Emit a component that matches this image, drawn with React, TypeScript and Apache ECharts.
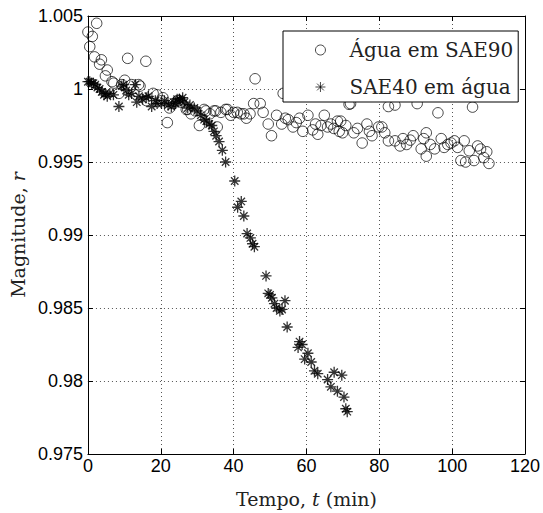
import React, { useEffect, useRef } from "react";
import * as echarts from "echarts";

const seriesNames = ["Água em SAE90", "SAE40 em água"];

const xTicks = { min: 0, max: 120, interval: 20 };
const yTicks = { min: 0.975, max: 1.005, interval: 0.005 };

// Água em SAE90 (circles): [tempo, magnitude]
const aguaEmSAE90: [number, number][] = [
  [0, 1.0039], [0.5, 1.0029], [1.2, 1.0036], [1.8, 1.0022], [2.4, 1.0045], [3.2, 1.0017],
  [3.7, 1.002], [4.8, 1.0009], [5.3, 1.0013], [6.6, 1.0005], [7.1, 1.0004], [8.5, 0.9997],
  [9.3, 1.0003], [10.1, 1.0006], [10.9, 1.0021], [12, 1.0003], [13.9, 1.0003], [14.3, 1.0002],
  [15.9, 1.0019], [16.1, 0.9992], [17.9, 0.9997], [19, 0.9996], [20.2, 0.9992], [20.6, 0.9994],
  [21.8, 0.9977], [22.4, 0.9987], [23.5, 0.999], [24.7, 0.9992], [25.6, 0.9991], [27, 0.9986],
  [27.4, 0.9986], [28.3, 0.9983], [29.5, 0.9985], [30.6, 0.9975], [31.9, 0.9986], [32.4, 0.9985],
  [33.5, 0.9983], [34.6, 0.9985], [35.1, 0.9985], [35.5, 0.9974], [36.5, 0.9984], [37.8, 0.9986],
  [38.3, 0.9986], [39.2, 0.9982], [40, 0.9984], [41, 0.9984], [42, 0.9983], [42.8, 0.9983],
  [43.5, 0.998], [44.5, 0.9983], [45.5, 0.999], [45.9, 1.0007], [47.3, 0.999], [48.1, 0.9984],
  [49.5, 0.9976], [50.4, 0.9968], [51.8, 0.9982], [53.2, 0.9976], [53.6, 0.9997], [54.2, 0.998],
  [55, 0.9979], [56.3, 0.9974], [57.2, 0.9977], [58.1, 0.998], [59, 0.9971], [60.4, 0.9982],
  [60.8, 0.9997], [61.7, 0.9972], [62.5, 0.9976], [63.1, 0.9969], [64, 0.9975], [64.9, 0.9982],
  [65.8, 0.9974], [66.7, 0.9976], [67.5, 0.9973], [68.5, 0.9978], [69, 0.9971], [69.4, 0.9978],
  [69.9, 0.997], [70.8, 0.9975], [71.7, 0.99895], [72.1, 0.999], [73, 0.997], [74, 0.9973],
  [75.3, 0.9963], [76.6, 0.9976], [77.3, 0.9971], [78, 0.9968], [79.8, 0.9974], [80.7, 0.9974],
  [81.5, 0.997], [82.5, 0.99645], [82.5, 0.9988], [84.3, 0.9989], [84.3, 0.99645], [85.7, 0.9961],
  [86.5, 0.9966], [87.5, 0.9962], [88.5, 0.9965], [89.3, 0.9968], [90.4, 0.999], [91.5, 0.9959],
  [92.2, 0.9966], [92.9, 0.997], [92.9, 0.9954], [94, 0.9962], [95.2, 0.9959], [96.1, 0.99837],
  [97, 0.9966], [97.8, 0.996], [98.8, 0.9962], [99.7, 0.9963], [100.6, 0.99645], [101.5, 0.996],
  [102.4, 0.9951], [103.3, 0.99645], [103.7, 0.995], [104.7, 0.99577], [105.6, 0.99876], [106, 0.9951],
  [107, 0.9961], [107.8, 0.99589], [108.7, 0.9953], [109.5, 0.9957], [110.1, 0.9949],
];

// SAE40 em água (asterisks): [tempo, magnitude]
const sae40EmAgua: [number, number][] = [
  [0, 1.0005], [0.5, 1.0005], [1, 1.0004], [1.5, 1.0004], [2, 1.0003], [2.6, 1.0001], [3.2, 1.0],
  [3.8, 0.9998], [4.4, 0.9996], [4.8, 0.9997], [5.3, 0.9995], [6, 0.9997], [7, 0.9996], [8.5, 0.9988],
  [9.3, 1.0002], [9.8, 1.0003], [10.5, 0.9999], [11.2, 0.9996], [12, 0.9997], [13, 1.0003],
  [13.4, 0.9991], [14, 0.9995], [15, 0.9993], [16, 0.9994], [16.6, 0.9995], [17.5, 0.9988],
  [18.5, 0.9992], [19, 0.999], [20.2, 0.999], [21, 0.9992], [22, 0.9989], [22.9, 0.9988],
  [23.5, 0.9991], [24, 0.999], [24.5, 0.9993], [25.1, 0.9993], [25.5, 0.9992], [26, 0.9994],
  [26.5, 0.9991], [27.4, 0.9987], [28, 0.9989], [29.2, 0.9987], [30, 0.9985], [31, 0.9982],
  [31.9, 0.9979], [32.5, 0.9978], [33.3, 0.9976], [34, 0.9975], [34.6, 0.9971], [35.2, 0.9968],
  [36, 0.9964], [36.9, 0.9958], [37.8, 0.995], [40.3, 0.9937], [41.1, 0.9919], [42.1, 0.9923],
  [42.8, 0.9913], [43.7, 0.9901], [44.6, 0.9898], [45.2, 0.9894], [45.7, 0.9892], [48.9, 0.9872],
  [49.5, 0.986], [50, 0.9859], [50.5, 0.9857], [51.2, 0.9853], [51.8, 0.985], [52.7, 0.9848],
  [53.3, 0.9849], [54.1, 0.9855], [54.7, 0.9837], [57.7, 0.9823], [58.1, 0.9827], [58.8, 0.9825],
  [59.5, 0.9815], [60.4, 0.9819], [61.3, 0.9813], [62.2, 0.9807], [63.1, 0.9805], [65.8, 0.9801],
  [66.7, 0.9796], [67.6, 0.9806], [68.5, 0.9793], [69.7, 0.9804], [70.3, 0.9789], [70.8, 0.9781],
  [71.2, 0.9779],
];

const STAR = "path://M5 0 L5 10 M0 5 L10 5 M1.6 1.6 L8.4 8.4 M1.6 8.4 L8.4 1.6";
const SERIF = "'DejaVu Serif', 'Liberation Serif', serif";
const SANS = "'Liberation Sans', Arial, sans-serif";
const TXT = "#222";

export default function App() {
  const ref = useRef<HTMLDivElement>(null);
  useEffect(() => {
    if (!ref.current) return;
    const chart = echarts.init(ref.current, null, { renderer: "svg" });
    const fmtY = (v: number) => (Math.round(v * 1000) / 1000).toString();
    const splitLine = { show: true, lineStyle: { color: "#555", width: 1, type: [1, 3] as any } };
    const axisLine = { show: true, onZero: false, lineStyle: { color: "#000", width: 1 } };
    const axisTick = { show: true, inside: true, length: 5, lineStyle: { color: "#000" } };
    const rich = {
      a: { fontFamily: SERIF, fontSize: 19, color: TXT },
      i: { fontFamily: SERIF, fontSize: 19, fontStyle: "italic", color: TXT },
    };
    chart.setOption({
      animation: false,
      backgroundColor: "#fff",
      grid: { left: 85, right: 15, top: 16, bottom: 56, containLabel: false },
      xAxis: [
        {
          type: "value", ...xTicks, position: "bottom",
          axisLine, axisTick, splitLine,
          axisLabel: { color: "#000", fontFamily: SANS, fontSize: 18, margin: 3 },
          name: "{a|Tempo, }{i|t}{a| (min)}",
          nameLocation: "middle", nameGap: 35,
          nameTextStyle: { fontFamily: SERIF, fontSize: 19, color: TXT, rich },
        },
        {
          type: "value", ...xTicks, position: "top",
          axisLine, axisTick, splitLine: { show: false }, axisLabel: { show: false },
        },
      ],
      yAxis: [
        {
          type: "value", ...yTicks, position: "left",
          axisLine, axisTick, splitLine,
          axisLabel: { color: "#000", fontFamily: SANS, fontSize: 18, margin: 5, formatter: fmtY },
          name: "{a|Magnitude, }{i|r}",
          nameLocation: "middle", nameGap: 53,
          nameTextStyle: { fontFamily: SERIF, fontSize: 19, color: TXT, rich },
        },
        {
          type: "value", ...yTicks, position: "right",
          axisLine, axisTick, splitLine: { show: false }, axisLabel: { show: false },
        },
      ],
      legend: {
        orient: "vertical",
        left: 283, top: 31,
        padding: [8, 5, 4, 32],
        itemGap: 15,
        itemWidth: 10, itemHeight: 10,
        backgroundColor: "#fff",
        borderColor: "#000", borderWidth: 1,
        itemStyle: { borderWidth: 0.9 },
        textStyle: { fontFamily: SERIF, fontSize: 20, color: TXT, lineHeight: 22, padding: [0, 0, 0, 19] },
        data: seriesNames,
      },
      series: [
        {
          name: seriesNames[0], type: "scatter", data: aguaEmSAE90,
          symbol: "circle", symbolSize: 10.5,
          itemStyle: { color: "rgba(0,0,0,0)", borderColor: "#000", borderWidth: 0.9 },
          z: 2,
        },
        {
          name: seriesNames[1], type: "scatter", data: sae40EmAgua,
          symbol: STAR, symbolSize: 11,
          itemStyle: { color: "rgba(0,0,0,0)", borderColor: "#000", borderWidth: 1.3 },
          z: 3,
        },
      ],
    });
    return () => chart.dispose();
  }, []);
  return <div ref={ref} style={{ width: 543, height: 513, position: "absolute", left: 0, top: 0 }} />;
}
